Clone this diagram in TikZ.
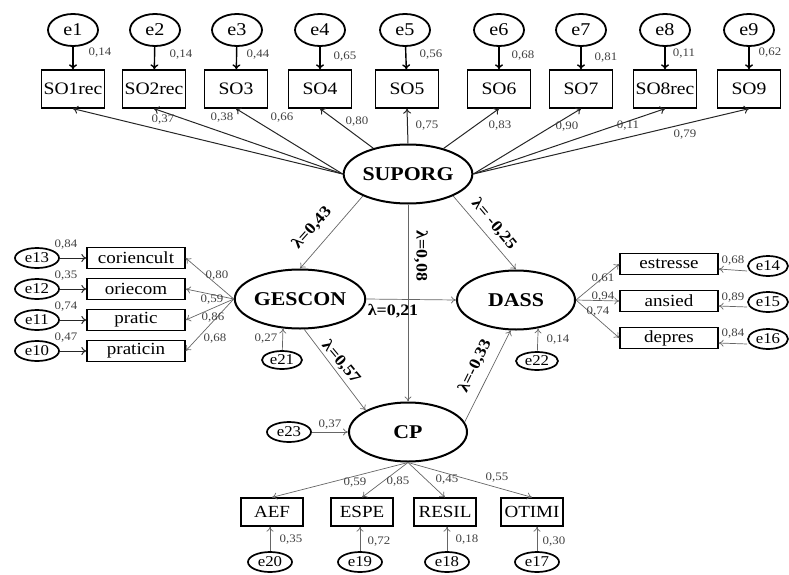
\documentclass[tikz,border=0pt]{standalone}
\usepackage{fontspec}
\setmainfont[FakeStretch=1.12]{Liberation Serif}
\usetikzlibrary{shapes.geometric,arrows.meta}
\tikzset{
  err/.style={ellipse, draw, line width=1.8pt, minimum width=50pt, minimum height=32pt, inner sep=0pt, font=\fontsize{18}{18}\selectfont},
  serr/.style={ellipse, draw, line width=1.7pt, minimum width=44pt, minimum height=20pt, inner sep=0pt, font=\fontsize{15}{15}\selectfont},
  obs/.style={rectangle, draw, line width=1.3pt, minimum width=63pt, minimum height=38pt, inner sep=0pt, font=\fontsize{17.5}{17.5}\selectfont},
  sobs/.style={rectangle, draw, line width=1.3pt, minimum width=98pt, minimum height=21pt, inner sep=0pt, font=\fontsize{17}{17}\selectfont},
  bobs/.style={rectangle, draw, line width=1.3pt, minimum width=62pt, minimum height=28pt, inner sep=0pt, font=\fontsize{17}{17}\selectfont},
  lat/.style={ellipse, draw, line width=2pt, minimum width=118pt, minimum height=59pt, inner sep=0pt, font=\bfseries\fontsize{19.5}{19.5}\selectfont},
  num/.style={font=\fontsize{11.5}{11.5}\selectfont, inner sep=1pt, text=black!75},
  lam/.style={font=\bfseries\fontsize{16}{16}\selectfont, inner sep=0.5pt},
  earr/.style={-{To[length=5pt,width=8pt]}, line width=1.4pt},
  larr/.style={-{To[length=5pt,width=8pt]}, line width=1pt, draw=black!85},
  garr/.style={-{To[length=5pt,width=7pt]}, line width=0.7pt, draw=black!60},
}
\begin{document}
\begin{tikzpicture}[x=1pt,y=-1pt]
\useasboundingbox (0,0) rectangle (789,575);

% ---------- top block ----------
\node[err] (e1) at (73,30) {e1};
\node[err] (e2) at (155,30) {e2};
\node[err] (e3) at (237,30) {e3};
\node[err] (e4) at (320,30) {e4};
\node[err] (e5) at (405,30) {e5};
\node[err] (e6) at (499,30) {e6};
\node[err] (e7) at (581,30) {e7};
\node[err] (e8) at (665,30) {e8};
\node[err] (e9) at (749,30) {e9};

\node[obs] (so1) at (73,89) {SO1rec};
\node[obs] (so2) at (154,89) {SO2rec};
\node[obs] (so3) at (236,89) {SO3};
\node[obs] (so4) at (320,89) {SO4};
\node[obs] (so5) at (407,89) {SO5};
\node[obs] (so6) at (499,89) {SO6};
\node[obs] (so7) at (581,89) {SO7};
\node[obs] (so8) at (665,89) {SO8rec};
\node[obs] (so9) at (749,89) {SO9};

\draw[earr] (e1) -- (so1);
\draw[earr] (e2) -- (so2);
\draw[earr] (e3) -- (so3);
\draw[earr] (e4) -- (so4);
\draw[earr] (e5) -- (so5);
\draw[earr] (e6) -- (so6);
\draw[earr] (e7) -- (so7);
\draw[earr] (e8) -- (so8);
\draw[earr] (e9) -- (so9);

\node[num] (r1) at (100,53) {0,14};
\node[num] (r2) at (181,55) {0,14};
\node[num] (r3) at (258,55) {0,44};
\node[num] (r4) at (345,57) {0,65};
\node[num] (r5) at (431,55) {0,56};
\node[num] (r6) at (523,56) {0,68};
\node[num] (r7) at (606,58) {0,81};
\node[num] (r8) at (684,54) {0,11};
\node[num] (r9) at (770,53) {0,62};

\node[lat] (SUPORG) at (408,174) {SUPORG};

\draw[larr] (SUPORG.west) -- (so1.south);
\draw[larr] (SUPORG.west) -- (so2.south);
\draw[larr] (SUPORG.west) -- (so3.south);
\draw[larr] (SUPORG) -- (so4.south);
\draw[larr] (SUPORG.north) -- (so5.south);
\draw[larr] (SUPORG) -- (so6.south);
\draw[larr] (SUPORG.east) -- (so7.south);
\draw[larr] (SUPORG.east) -- (so8.south);
\draw[larr] (SUPORG.east) -- (so9.south);

\node[num] (f1) at (163,120) {0,37};
\node[num] (f2) at (222,118) {0,38};
\node[num] (f3) at (282,118) {0,66};
\node[num] (f4) at (357,122) {0,80};
\node[num] (f5) at (427,126) {0,75};
\node[num] (f6) at (500,126) {0,83};
\node[num] (f7) at (567,127) {0,90};
\node[num] (f8) at (628,126) {0,11};
\node[num] (f9) at (685,135) {0,79};

% ---------- latent variables ----------
\node[lat] (GESCON) at (300,299) {GESCON};
\node[lat] (DASS) at (516,300) {DASS};
\node[lat] (CP) at (408,432) {CP};

% structural paths
\draw[garr] (SUPORG.206) -- (GESCON.north);
\draw[garr] (SUPORG.334) -- (DASS.north);
\draw[garr] (SUPORG.south) -- (CP.north);
\draw[garr] (GESCON.east) -- (DASS.west);
\draw[garr] (GESCON.278) -- (CP.153);
\draw[garr] (CP.10) -- (DASS.260);

\node[lam, rotate=48] (l1) at (312,228) {λ=0,43};
\node[lam, rotate=-50] (l2) at (494,224) {λ= -0,25};
\node[lam, rotate=-90] (l3) at (421,256) {λ=0,08};
\node[lam] (l4) at (393,311) {λ=0,21};
\node[lam, rotate=-50] (l5) at (341,362) {λ=0,57};
\node[lam, rotate=64] (l6) at (475,366) {λ=-0,33};

% ---------- GESCON indicators ----------
\node[sobs] (cor) at (136,258) {coriencult};
\node[sobs] (orie) at (136,289) {oriecom};
\node[sobs] (prat) at (136,320) {pratic};
\node[sobs] (prati) at (136,351) {praticin};

\node[serr] (e13) at (37,258) {e13};
\node[serr] (e12) at (37,289) {e12};
\node[serr] (e11) at (37,320) {e11};
\node[serr] (e10) at (37,351) {e10};

\draw[larr] (e13) -- (cor);
\draw[larr] (e12) -- (orie);
\draw[larr] (e11) -- (prat);
\draw[larr] (e10) -- (prati);

\node[num] (g13) at (66,245) {0,84};
\node[num] (g12) at (66,276) {0,35};
\node[num] (g11) at (66,307) {0,74};
\node[num] (g10) at (66,338) {0,47};

\draw[garr] (GESCON.west) -- (cor.east);
\draw[garr] (GESCON.west) -- (orie.east);
\draw[garr] (GESCON.west) -- (prat.east);
\draw[garr] (GESCON.west) -- (prati.east);

\node[num] (h1) at (217,276) {0,80};
\node[num] (h2) at (212,300) {0,59};
\node[num] (h3) at (213,318) {0,86};
\node[num] (h4) at (215,339) {0,68};

\node[serr, minimum width=40pt, minimum height=18pt] (e21) at (282,360) {e21};
\draw[garr] (e21) -- (GESCON.240);
\node[num] (g21) at (266,339) {0,27};

% ---------- DASS indicators ----------
\node[sobs] (est) at (669,264) {estresse};
\node[sobs] (ans) at (669,301) {ansied};
\node[sobs] (dep) at (669,338) {depres};

\node[serr, minimum width=40pt] (e14) at (768,266) {e14};
\node[serr, minimum width=40pt] (e15) at (768,302) {e15};
\node[serr, minimum width=40pt] (e16) at (768,339) {e16};

\draw[garr] ([yshift=-5pt]e14.west) -- ([yshift=-5pt]est.east);
\draw[garr] ([yshift=-5pt]e15.west) -- ([yshift=-5pt]ans.east);
\draw[garr] ([yshift=-5pt]e16.west) -- ([yshift=-5pt]dep.east);

\node[num] (d14) at (733,261) {0,68};
\node[num] (d15) at (733,298) {0,89};
\node[num] (d16) at (733,334) {0,84};

\draw[garr] (DASS.east) -- (est.west);
\draw[garr] (DASS.east) -- (ans.west);
\draw[garr] (DASS.east) -- (dep.west);

\node[num] (k1) at (603,279) {0,61};
\node[num] (k2) at (603,297) {0,94};
\node[num] (k3) at (598,312) {0,74};

\node[serr, minimum width=42pt, minimum height=18pt] (e22) at (537,361) {e22};
\draw[garr] (e22) -- (DASS.308);
\node[num] (d22) at (558,340) {0,14};

% ---------- CP indicators ----------
\node[serr] (e23) at (289,432) {e23};
\draw[garr] (e23) -- (CP.west);
\node[num] (c23) at (330,425) {0,37};

\node[bobs] (aef) at (272,512) {AEF};
\node[bobs] (espe) at (362,512) {ESPE};
\node[bobs] (resil) at (445,512) {RESIL};
\node[bobs] (otimi) at (532,512) {OTIMI};

\draw[garr] (CP.south) -- (aef.north);
\draw[garr] (CP.south) -- (espe.north);
\draw[garr] (CP.south) -- (resil.north);
\draw[garr] (CP.south) -- (otimi.north);

\node[num] (m1) at (355,483) {0,59};
\node[num] (m2) at (398,482) {0,85};
\node[num] (m3) at (447,480) {0,45};
\node[num] (m4) at (497,478) {0,55};

\node[serr] (e20) at (270,562) {e20};
\node[serr] (e19) at (360,562) {e19};
\node[serr] (e18) at (447,562) {e18};
\node[serr] (e17) at (537,562) {e17};

\draw[garr] (e20.north) -- (e20.north |- aef.south);
\draw[garr] (e19.north) -- (e19.north |- espe.south);
\draw[garr] (e18.north) -- (e18.north |- resil.south);
\draw[garr] (e17.north) -- (e17.north |- otimi.south);

\node[num] (n20) at (291,540) {0,35};
\node[num] (n19) at (379,542) {0,72};
\node[num] (n18) at (467,540) {0,18};
\node[num] (n17) at (554,542) {0,30};
\end{tikzpicture}
\end{document}
